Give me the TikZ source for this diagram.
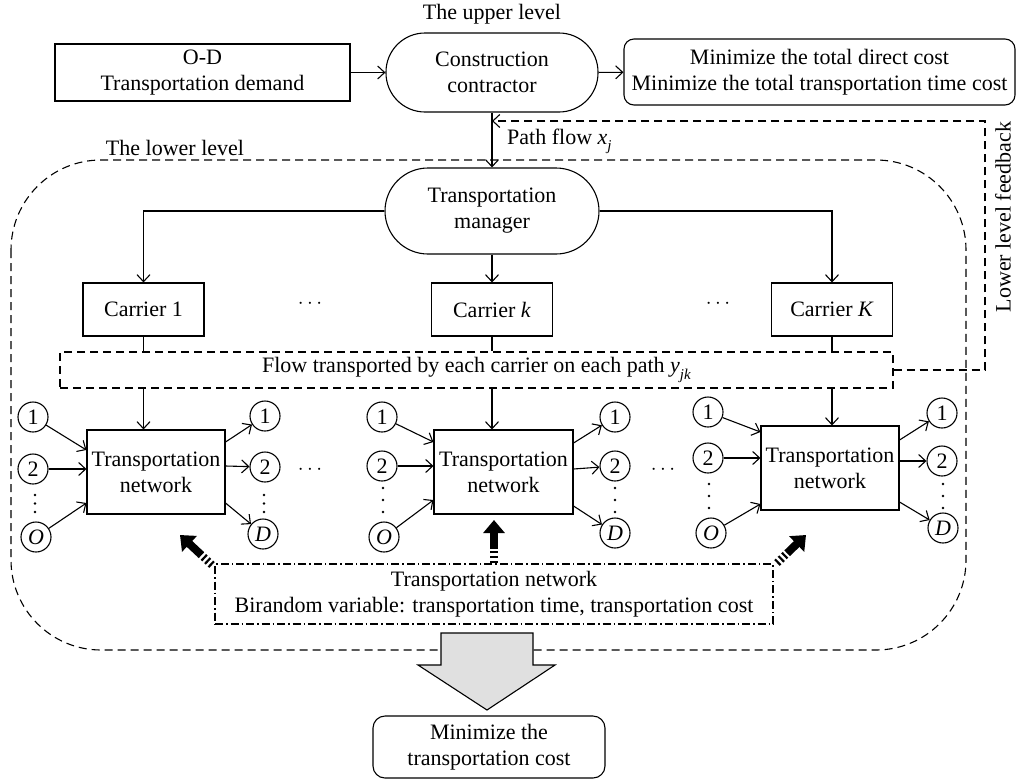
\documentclass[tikz,border=0pt]{standalone}
\usepackage{fontspec}
\setmainfont{Liberation Serif}
\usetikzlibrary{arrows.meta,calc}
\definecolor{arrowgray}{RGB}{224,224,224}
\newcommand{\isub}[2]{\textit{#1}\raisebox{-0.28em}{\fontsize{15}{15}\selectfont\textit{#2}}}
\begin{document}
\begin{tikzpicture}[x=1pt,y=-1pt,
  every node/.style={font=\fontsize{22}{26}\selectfont, align=center, inner sep=0pt},
  ln/.style={line width=1.1pt},
  box/.style={draw, ln},
  arr/.style={ln, -{Straight Barb[length=7pt,width=13pt]}},
  circ/.style={draw, ln, circle, minimum size=30pt},
  dsh/.style={line width=1.1pt, dash pattern=on 8pt off 5pt},
  dashdot/.style={line width=1.1pt, dash pattern=on 8pt off 3pt on 1.5pt off 3pt},
  stripes/.style={line width=8pt, dash pattern=on 2.2pt off 2.6pt},
  solidhead/.style={line width=8pt, -{Triangle[length=13pt,width=21pt]}},
  vdot/.style={fill=black},
]
\useasboundingbox (0,0) rectangle (1017,780);

% ---------- upper level ----------
\node (up) at (492,14) {The upper level};
\node[box, minimum width=295pt, minimum height=57pt] (od) at (202.5,72.5) {O-D\\Transportation demand};
\node[box, rounded corners=39pt, minimum width=212pt, minimum height=79pt] (cc) at (492,72.5) {Construction\\contractor};
\node[box, rounded corners=10pt, minimum width=391pt, minimum height=66pt] (mn) at (819.5,72) {Minimize the total direct cost\\Minimize the total transportation time cost};
\draw[arr] (od) -- (cc);
\draw[arr] (cc) -- (mn);

% ---------- lower level frame ----------
\draw[dsh, rounded corners=90pt] (11,160) rectangle (966,650);
\node (ll) at (175,148) {The lower level};
\node[anchor=west] (pf) at (507,141) {Path flow \isub{x}{j}};

\node[box, rounded corners=43pt, minimum width=214pt, minimum height=86pt] (tm) at (492,211) {Transportation\\manager};
\draw[arr] (cc.south) -- (tm.north);

% carriers
\node[box, minimum width=121pt, minimum height=53pt] (c1) at (143.5,309.5) {Carrier 1};
\node[box, minimum width=121pt, minimum height=53pt] (ck) at (492,309.5) {Carrier \textit{k}};
\node[box, minimum width=121pt, minimum height=53pt] (cK) at (832,309.5) {Carrier \textit{K}};
\node (dc1) at (310,304) {$\cdots$};
\node (dc2) at (718,304) {$\cdots$};
\draw[arr] (tm.west) -| (c1.north);
\draw[arr] (tm.east) -| (cK.north);
\draw[arr] (tm.south) -- (ck.north);

% flow box
\node[draw, dsh, minimum width=833pt, minimum height=36pt] (fl) at (476.5,370) {Flow transported by each carrier on each path \isub{y}{jk}};
\draw[ln] (c1.south) -- (c1.south |- fl.north);
\draw[ln] (ck.south) -- (ck.south |- fl.north);
\draw[ln] (cK.south) -- (cK.south |- fl.north);

% feedback
\coordinate (fbB) at (985,370);
\coordinate (fbT) at (985,121);
\draw[dsh, -{Straight Barb[length=7pt,width=13pt]}] (fl.east) -- (fbB) -- (fbT) -- (cc.south |- fbT);
\node[rotate=90] (fbl) at (1003,217) {Lower level feedback};

% ---------- transportation networks ----------
\node[box, minimum width=138pt, minimum height=84pt] (n1) at (156,472) {Transportation\\network};
\node[box, minimum width=139pt, minimum height=84pt] (n2) at (503.5,472) {Transportation\\network};
\node[box, minimum width=138pt, minimum height=84pt] (n3) at (830,468) {Transportation\\network};

\draw[arr] (c1.south |- fl.south) -- (c1.south |- n1.north);
\draw[arr] (ck.south |- fl.south) -- (ck.south |- n2.north);
\draw[arr] (cK.south |- fl.south) -- (cK.south |- n3.north);

% network 1 circles
\node[circ] (a1) at (33,417) {1};
\node[circ] (b1) at (33,469) {2};
\node[circ] (o1) at (36,537) {\textit{O}};
\node[circ] (e1) at (265,416) {1};
\node[circ] (f1) at (265,467) {2};
\node[circ] (d1) at (263,534) {\textit{D}};
\draw[arr] (a1) -- ([yshift=22pt]n1.west);
\draw[arr] (b1) -- ([yshift=3pt]n1.west);
\draw[arr] (o1) -- ([yshift=-31pt]n1.west);
\draw[arr] ([yshift=30pt]n1.east) -- (e1);
\draw[arr] ([yshift=6pt]n1.east) -- (f1);
\draw[arr] ([yshift=-31pt]n1.east) -- (d1);
\foreach \yy in {495,503.5,512} {\fill[vdot] (35,\yy) circle (1.4pt); \fill[vdot] (264,\yy) circle (1.4pt);}

% network 2 circles
\node[circ] (a2) at (382,417) {1};
\node[circ] (b2) at (382,466) {2};
\node[circ] (o2) at (384,537) {\textit{O}};
\node[circ] (e2) at (615,417) {1};
\node[circ] (f2) at (615,466) {2};
\node[circ] (d2) at (615,533) {\textit{D}};
\draw[arr] (a2) -- ([yshift=30pt]n2.west);
\draw[arr] (b2) -- ([yshift=6pt]n2.west);
\draw[arr] (o2) -- ([yshift=-28pt]n2.west);
\draw[arr] ([yshift=29pt]n2.east) -- (e2);
\draw[arr] ([yshift=3pt]n2.east) -- (f2);
\draw[arr] ([yshift=-34pt]n2.east) -- (d2);
\foreach \yy in {488,500,512} {\fill[vdot] (383,\yy) circle (1.4pt); \fill[vdot] (615,\yy) circle (1.4pt);}

% network 3 circles
\node[circ] (a3) at (708,412) {1};
\node[circ] (b3) at (708,458) {2};
\node[circ] (o3) at (711,533) {\textit{O}};
\node[circ] (e3) at (942,413) {1};
\node[circ] (f3) at (942,461) {2};
\node[circ] (d3) at (943,528) {\textit{D}};
\draw[arr] (a3) -- ([yshift=36pt]n3.west);
\draw[arr] (b3) -- ([yshift=10pt]n3.west);
\draw[arr] (o3) -- ([yshift=-36pt]n3.west);
\draw[arr] ([yshift=28pt]n3.east) -- (e3);
\draw[arr] ([yshift=7pt]n3.east) -- (f3);
\draw[arr] ([yshift=-34pt]n3.east) -- (d3);
\foreach \yy in {484,496,508} {\fill[vdot] (709,\yy) circle (1.4pt); \fill[vdot] (943,\yy) circle (1.4pt);}

\node (dn1) at (310,470) {$\cdots$};
\node (dn2) at (663,470) {$\cdots$};

% birandom box
\node[draw, dashdot, minimum width=558pt, minimum height=60pt] (bv) at (494,594) {Transportation network\\Birandom variable: transportation time, transportation cost};

% thick striped arrows
\coordinate (t1a) at (212,565); \coordinate (t1b) at (180,535);
\coordinate (t2a) at (494,563); \coordinate (t2b) at (494,520);
\coordinate (t3a) at (777,563); \coordinate (t3b) at (806,535);
\foreach \s in {1,2,3} {
  \draw[stripes] (t\s a) -- ($(t\s a)!0.36!(t\s b)$);
  \draw[solidhead] ($(t\s a)!0.35!(t\s b)$) -- (t\s b);
}

% ---------- result ----------
\draw[ln, fill=arrowgray] (441,633) -- (533,633) -- (533,665) -- (555,665) -- (487,710) -- (418,665) -- (441,665) -- cycle;
\node[box, rounded corners=12pt, minimum width=232pt, minimum height=62pt] (mt) at (489,747) {Minimize the\\transportation cost};
\end{tikzpicture}
\end{document}
